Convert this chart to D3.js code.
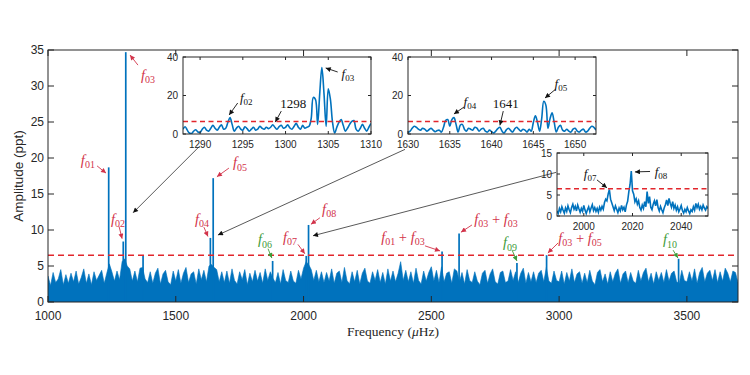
<!DOCTYPE html>
<html>
<head>
<meta charset="utf-8">
<script src="https://cdn.jsdelivr.net/npm/d3@7"></script>
<style>
body { margin: 0; background: #fff; }
svg { display: block; font-family: "Liberation Sans", Arial, sans-serif; }
</style>
</head>
<body>
<svg id="chart" width="750" height="375"></svg>
<script>
// main spectrum: noise envelope, one value per 10 uHz from 1000 to 3700
const noiseStart = 1000;
const noiseStep = 10;
const noiseTop = [
  3.6, 2.3, 4.1, 2.7, 3.2, 4.5, 2.4, 3.8, 2.6, 4.0,
  2.8, 4.3, 2.5, 3.4, 4.6, 2.6, 3.9, 2.4, 4.2, 3.0,
  3.7, 4.4, 2.6, 4.0, 5.3, 4.2, 2.9, 4.3, 3.1, 5.6,
  6.0, 5.0, 4.6, 2.9, 4.3, 2.8, 4.7, 4.8, 3.2, 2.7,
  4.2, 2.6, 4.0, 4.7, 2.5, 3.9, 4.4, 2.8, 2.4, 4.3,
  2.9, 4.5, 2.6, 4.0, 4.8, 2.7, 3.9, 4.2, 2.5, 4.6,
  3.1, 4.4, 2.8, 5.0, 5.2, 4.8, 4.5, 2.8, 4.2, 2.7,
  4.3, 2.6, 4.6, 3.0, 2.5, 4.2, 3.1, 4.5, 2.4, 4.0,
  2.8, 4.4, 2.9, 4.1, 2.6, 4.6, 3.0, 4.2, 3.3, 2.7,
  4.1, 2.5, 4.5, 3.0, 2.7, 4.3, 2.9, 2.6, 4.4, 3.2,
  4.7, 5.6, 5.2, 4.5, 3.0, 4.4, 2.8, 4.2, 2.7, 4.1,
  2.9, 4.6, 2.6, 4.0, 4.3, 2.7, 4.8, 3.0, 2.5, 4.2,
  2.8, 4.4, 2.5, 4.0, 4.7, 2.9, 2.6, 4.2, 3.0, 4.5,
  2.7, 4.1, 2.5, 4.6, 2.9, 4.3, 2.8, 4.0, 5.6, 3.0,
  4.4, 2.8, 4.2, 2.6, 4.7, 3.0, 2.5, 4.3, 2.9, 4.1,
  4.9, 2.9, 4.4, 2.7, 4.9, 2.8, 4.0, 4.2, 2.6, 4.6,
  4.3, 2.8, 4.1, 2.5, 4.5, 3.0, 2.7, 4.2, 2.9, 2.4,
  4.0, 4.4, 2.6, 3.9, 4.6, 2.8, 2.5, 4.1, 4.3, 2.7,
  2.9, 4.5, 3.0, 4.2, 2.7, 4.0, 4.7, 2.6, 4.1, 2.8,
  4.2, 2.7, 4.0, 4.4, 2.8, 4.8, 2.9, 2.6, 4.3, 3.0,
  2.8, 4.3, 2.5, 4.1, 2.9, 4.6, 2.7, 3.9, 4.2, 2.6,
  4.0, 2.7, 4.4, 2.9, 2.4, 4.1, 4.5, 2.8, 3.9, 2.5,
  4.2, 2.8, 4.0, 4.6, 2.6, 3.9, 4.3, 2.7, 4.1, 2.9,
  2.6, 4.4, 2.9, 4.1, 4.7, 2.8, 4.0, 2.5, 4.2, 3.0,
  4.1, 2.7, 4.5, 2.9, 4.0, 4.3, 2.8, 2.6, 4.4, 3.0,
  2.8, 4.2, 2.9, 4.6, 2.6, 4.1, 4.8, 2.8, 4.0, 4.4,
  3.0, 4.5, 2.7, 4.2, 2.9, 4.7, 4.0, 2.8, 4.3, 4.1, 2.7
];

// significant peaks in the main spectrum
const peakFreq = [1237.5, 1294.5, 1304.3, 1372, 1635.4, 1646.4, 1879, 2010.5, 2019.5, 2542, 2608.6, 2835, 2951, 3467.5];
const peakAmp  = [18.7, 8.4, 34.7, 6.4, 8.9, 17.2, 5.7, 6.4, 10.7, 7.0, 9.5, 5.4, 6.5, 6.0];

const threshold = 6.5;
const xTicks = [1000, 1500, 2000, 2500, 3000, 3500];
const yTicks = [0, 5, 10, 15, 20, 25, 30, 35];

// inset 1: 1288 - 1310 uHz
const zoom1Start = 1288, zoom1Step = 0.25;
const zoom1Amp = [
  2.5, 3.8, 2.0, 0.5, 0.3, 1.5, 2.2, 1.0, 0.8, 2.5,
  3.5, 2.0, 1.5, 3.0, 4.5, 3.0, 2.0, 3.5, 4.8, 2.5,
  3.0, 6.0, 8.5, 5.0, 1.5, 3.0, 4.0, 2.5, 2.0, 3.8,
  2.8, 1.5, 2.5, 3.5, 2.0, 2.5, 4.0, 3.0, 2.5, 3.5,
  2.8, 3.5, 4.8, 3.5, 2.5, 3.8, 4.5, 3.0, 3.5, 4.8,
  3.2, 2.5, 4.0, 5.5, 3.5, 2.5, 4.5, 3.0, 3.5, 4.0,
  8.0, 19.0, 18.0, 5.0, 21.0, 34.5, 21.0, 4.0, 23.5, 18.0,
  6.0, 0.5, 3.5, 6.0, 7.5, 4.5, 1.5, 3.0, 5.0, 6.5,
  7.0, 2.5, 1.5, 3.0, 5.0, 3.0, 1.5, 3.5, 5.5
];

// inset 2: 1630 - 1652.5 uHz
const zoom2Start = 1630, zoom2Step = 0.25;
const zoom2Amp = [
  0.8, 1.5, 3.0, 4.0, 3.5, 2.5, 2.0, 3.0, 2.5, 1.5,
  2.2, 3.0, 2.0, 1.2, 1.8, 2.0, 1.0, 3.5, 7.0, 7.5,
  4.0, 7.5, 8.5, 5.0, 1.0, 4.5, 5.0, 2.5, 1.5, 3.0,
  2.5, 2.0, 3.5, 3.0, 1.5, 2.5, 3.0, 1.5, 1.0, 2.0,
  1.2, 0.5, 1.5, 2.8, 3.5, 1.5, 0.5, 2.0, 3.0, 2.0,
  1.0, 2.5, 3.5, 2.5, 1.5, 2.5, 2.0, 1.0, 2.5, 1.5,
  6.0, 9.5, 6.0, 1.5, 8.0, 17.0, 15.0, 3.0, 8.0, 11.0,
  6.0, 1.0, 3.5, 4.5, 2.0, 1.5, 2.5, 1.5, 1.0, 2.5,
  3.0, 1.5, 1.0, 2.0, 2.5, 1.0, 1.5, 3.0, 4.0, 3.5,
  2.0
];

// inset 3: 1989 - 2051 uHz
const zoom3Start = 1989, zoom3Step = 0.5;
const zoom3Amp = [
  1.2, 0.6, 1.8, 1.0, 2.2, 1.4, 0.7, 1.9, 1.1, 2.4,
  1.5, 0.8, 2.0, 2.8, 1.6, 2.3, 1.2, 2.6, 1.7, 0.9,
  1.8, 1.1, 2.5, 1.4, 0.6, 1.5, 2.2, 1.0, 1.9, 2.7,
  1.3, 2.0, 1.1, 1.8, 0.9, 2.1, 1.4, 2.3, 1.6, 3.2,
  4.0, 3.6, 5.2, 6.3, 4.0, 3.1, 2.2, 1.3, 2.4, 1.6,
  0.8, 1.9, 1.2, 2.5, 1.5, 2.1, 1.0, 2.6, 3.5, 5.8,
  7.5, 10.7, 6.0, 5.2, 3.4, 4.1, 2.8, 3.6, 2.0, 1.4,
  2.6, 1.8, 3.4, 2.2, 5.8, 3.0, 4.6, 2.1, 1.5, 2.8,
  3.6, 2.4, 3.9, 2.0, 1.2, 2.3, 1.5, 0.8, 1.9, 2.7,
  3.8, 2.5, 4.2, 3.0, 2.1, 3.4, 1.8, 2.6, 1.4, 2.2,
  1.0, 1.7, 2.5, 1.3, 0.7, 1.6, 1.0, 2.0, 1.2, 0.6,
  1.5, 1.1, 2.2, 1.4, 3.0, 2.0, 2.8, 1.6, 2.3, 1.5,
  2.6, 1.9, 1.4, 2.2, 1.8
];

// label pieces: [text, kind]  i = italic f, s = subscript, n = normal
const F = n => [["f", "i"], [n, "s"]];
const mainNotes = [
  { t: F("03"), c: "red", lab: [1391, 31.4], tail: [1352, 32.9], tip: [1321, 34.3] },
  { t: F("01"), c: "red", lab: [1156, 19.6], tail: [1192, 18.9], tip: [1227, 17.9] },
  { t: F("05"), c: "red", lab: [1751, 19.3], tail: [1708, 18.6], tip: [1661, 17.4] },
  { t: F("02"), c: "red", lab: [1274, 11.5], tail: [1278, 10.5], tip: [1290, 8.8] },
  { t: F("04"), c: "red", lab: [1603, 11.4], tail: [1610, 10.4], tip: [1626, 9.1] },
  { t: F("06"), c: "green", lab: [1849, 8.6], tail: [1861, 7.4], tip: [1876, 6.1] },
  { t: F("07"), c: "red", lab: [1947, 8.9], tail: [1978, 8.0], tip: [2005, 6.7] },
  { t: F("08"), c: "red", lab: [2100, 12.8], tail: [2064, 11.7], tip: [2029, 10.8] },
  { t: F("01").concat([[" + ", "n"]], F("03")), c: "red", lab: [2389, 8.9], tail: [2475, 7.8], tip: [2534, 7.1] },
  { t: F("03").concat([[" + ", "n"]], F("03")), c: "red", lab: [2753, 11.4], tail: [2659, 10.7], tip: [2616, 9.7] },
  { t: F("09"), c: "green", lab: [2808, 8.2], tail: [2816, 7.2], tip: [2835, 5.7] },
  { t: F("03").concat([[" + ", "n"]], F("05")), c: "red", lab: [3082, 8.8], tail: [2996, 8.2], tip: [2956, 6.8] },
  { t: F("10"), c: "green", lab: [3434, 8.6], tail: [3446, 7.2], tip: [3465, 6.1] }
];
const zoom1Notes = [
  { t: F("03"), c: "black", lab: [1307.3, 31.2], tail: [1306.1, 32.2], tip: [1304.7, 34.3] },
  { t: F("02"), c: "black", lab: [1295.4, 18.7], tail: [1294.4, 16.1], tip: [1293.4, 9.9] },
  { t: [["1298", "n"]], c: "black", lab: [1300.9, 15.3], tail: [1299.5, 11.9], tip: [1298.8, 6.2] }
];
const zoom2Notes = [
  { t: F("05"), c: "black", lab: [1648.3, 26.0], tail: [1647.7, 23.4], tip: [1646.4, 18.7] },
  { t: F("04"), c: "black", lab: [1637.4, 16.6], tail: [1636.7, 14.0], tip: [1635.5, 10.4] },
  { t: [["1641", "n"]], c: "black", lab: [1641.7, 15.3], tail: [1641.4, 11.9], tip: [1641.0, 4.5] }
];
const zoom3Notes = [
  { t: F("07"), c: "black", lab: [2002.6, 10.0], tail: [2005.4, 8.6], tip: [2009.5, 6.7] },
  { t: F("08"), c: "black", lab: [2031.7, 10.5], tail: [2027.2, 10.6], tip: [2021.0, 10.5] }
];
// thin lines from each inset down to its peak, in main-axes units
const connectors = [
  { from: [1595, 21.7], to: [1333, 12.4] },
  { from: [2397, 21.2], to: [1665, 9.3] },
  { from: [2988, 18.0], to: [2037, 9.2] }
];

const blue = "#0072bd", dashRed = "#e2262c", axisCol = "#262626";
const colors = { red: "#d2334a", green: "#3e9b3a", black: "#111" };
const serif = "'Liberation Serif', 'DejaVu Serif', serif";

const svg = d3.select("#chart");
const defs = svg.append("defs");
Object.entries(colors).forEach(([k, c]) => {
  defs.append("marker")
    .attr("id", "ah-" + k)
    .attr("viewBox", "0 0 10 10")
    .attr("refX", 10).attr("refY", 5)
    .attr("markerWidth", 6).attr("markerHeight", 5)
    .attr("markerUnits", "userSpaceOnUse")
    .attr("orient", "auto")
    .append("path").attr("d", "M0,0L10,5L0,10z").attr("fill", c);
});

// draws a MATLAB style box with inward ticks on all four sides
const drawBox = function(g, x, y, xt, yt, o) {
  const [x0, x1] = x.range();
  const [y0, y1] = y.range();
  g.append("rect")
    .attr("x", x0).attr("y", y1).attr("width", x1 - x0).attr("height", y0 - y1)
    .attr("fill", "none").attr("stroke", axisCol).attr("stroke-width", o.sw);
  xt.forEach(v => {
    g.append("line").attr("x1", x(v)).attr("x2", x(v)).attr("y1", y0).attr("y2", y0 - o.tick)
      .attr("stroke", axisCol).attr("stroke-width", o.sw);
    g.append("line").attr("x1", x(v)).attr("x2", x(v)).attr("y1", y1).attr("y2", y1 + o.tick)
      .attr("stroke", axisCol).attr("stroke-width", o.sw);
    g.append("text").attr("x", x(v)).attr("y", y0 + o.xGap)
      .attr("text-anchor", "middle").attr("font-size", o.fs).attr("fill", axisCol).text(v);
  });
  yt.forEach(v => {
    g.append("line").attr("x1", x0).attr("x2", x0 + o.tick).attr("y1", y(v)).attr("y2", y(v))
      .attr("stroke", axisCol).attr("stroke-width", o.sw);
    g.append("line").attr("x1", x1).attr("x2", x1 - o.tick).attr("y1", y(v)).attr("y2", y(v))
      .attr("stroke", axisCol).attr("stroke-width", o.sw);
    g.append("text").attr("x", x0 - o.yGap).attr("y", y(v) + o.fs * 0.36)
      .attr("text-anchor", "end").attr("font-size", o.fs).attr("fill", axisCol).text(v);
  });
};

const drawNotes = function(g, notes, x, y, fBig, fSub) {
  notes.forEach(n => {
    g.append("line")
      .attr("x1", x(n.tail[0])).attr("y1", y(n.tail[1]))
      .attr("x2", x(n.tip[0])).attr("y2", y(n.tip[1]))
      .attr("stroke", colors[n.c]).attr("stroke-width", 0.9)
      .attr("marker-end", `url(#ah-${n.c})`);
    const txt = g.append("text")
      .attr("x", x(n.lab[0])).attr("y", y(n.lab[1]) + fBig * 0.3)
      .attr("text-anchor", "middle")
      .attr("font-family", serif)
      .attr("fill", colors[n.c]);
    let low = false;
    n.t.forEach(([s, k]) => {
      const sp = txt.append("tspan").text(s);
      if (k === "s") {
        sp.attr("font-size", fSub).attr("dy", low ? 0 : fBig * 0.22);
        low = true;
      } else {
        sp.attr("font-size", fBig).attr("dy", low ? -fBig * 0.22 : 0);
        if (k === "i") sp.attr("font-style", "italic");
        low = false;
      }
    });
  });
};

// ---- main axes ----
const x = d3.scaleLinear().domain([1000, 3700]).range([48, 738]);
const y = d3.scaleLinear().domain([0, 35]).range([302, 50]);
const main = svg.append("g");

defs.append("clipPath").attr("id", "clipMain")
  .append("rect").attr("x", 48).attr("y", 50).attr("width", 690).attr("height", 252);

const plot = main.append("g").attr("clip-path", "url(#clipMain)");
const noise = noiseTop.map((v, i) => [noiseStart + i * noiseStep, v]);
plot.append("path")
  .datum(noise)
  .attr("d", d3.area().x(d => x(d[0])).y0(y(0)).y1(d => y(d[1])))
  .attr("fill", blue)
  .attr("stroke", blue).attr("stroke-width", 0.6);

plot.selectAll("line.peak")
  .data(peakFreq.map((f, i) => [f, peakAmp[i]]))
  .enter().append("line")
  .attr("class", "peak")
  .attr("x1", d => x(d[0])).attr("x2", d => x(d[0]))
  .attr("y1", y(0)).attr("y2", d => y(d[1]))
  .attr("stroke", blue).attr("stroke-width", 1.7);

plot.append("line")
  .attr("x1", x(1000)).attr("x2", x(3700))
  .attr("y1", y(threshold)).attr("y2", y(threshold))
  .attr("stroke", dashRed).attr("stroke-width", 1.5).attr("stroke-dasharray", "6,4");

drawBox(main, x, y, xTicks, yTicks, { tick: 6, sw: 1, fs: 12, xGap: 17.5, yGap: 4 });

main.append("text")
  .attr("transform", "translate(23,176) rotate(-90)")
  .attr("text-anchor", "middle").attr("font-size", 13.5).attr("fill", axisCol)
  .text("Amplitude (ppt)");

const xl = main.append("text")
  .attr("x", 393).attr("y", 336)
  .attr("text-anchor", "middle").attr("font-size", 13.5)
  .attr("font-family", serif).attr("fill", axisCol);
xl.append("tspan").text("Frequency (");
xl.append("tspan").attr("font-style", "italic").text("μ");
xl.append("tspan").text("Hz)");

// connector lines
connectors.forEach(c => {
  main.append("line")
    .attr("x1", x(c.from[0])).attr("y1", y(c.from[1]))
    .attr("x2", x(c.to[0])).attr("y2", y(c.to[1]))
    .attr("stroke", colors.black).attr("stroke-width", 0.7)
    .attr("marker-end", "url(#ah-black)");
});

drawNotes(main, mainNotes, x, y, 14.5, 10);

// ---- insets ----
const drawInset = function(id, box, xDom, yDom, xt, yt, start, step, amps, notes, curve) {
  const ix = d3.scaleLinear().domain(xDom).range([box[0], box[1]]);
  const iy = d3.scaleLinear().domain(yDom).range([box[3], box[2]]);
  const g = svg.append("g");
  g.append("rect")
    .attr("x", box[0]).attr("y", box[2]).attr("width", box[1] - box[0]).attr("height", box[3] - box[2])
    .attr("fill", "#fff");
  defs.append("clipPath").attr("id", id)
    .append("rect").attr("x", box[0]).attr("y", box[2]).attr("width", box[1] - box[0]).attr("height", box[3] - box[2]);
  const inner = g.append("g").attr("clip-path", `url(#${id})`);
  inner.append("path")
    .datum(amps.map((v, i) => [start + i * step, v]))
    .attr("d", d3.line().x(d => ix(d[0])).y(d => iy(d[1])).curve(curve))
    .attr("fill", "none").attr("stroke", blue).attr("stroke-width", 1.6);
  inner.append("line")
    .attr("x1", box[0]).attr("x2", box[1])
    .attr("y1", iy(threshold)).attr("y2", iy(threshold))
    .attr("stroke", dashRed).attr("stroke-width", 1.4).attr("stroke-dasharray", "5,3.5");
  drawBox(g, ix, iy, xt, yt, { tick: 3, sw: 1, fs: 10, xGap: 13.5, yGap: 5 });
  drawNotes(g, notes, ix, iy, 13, 9);
};

drawInset("clip1", [183, 371, 57, 134], [1288, 1310], [0, 40],
  [1290, 1295, 1300, 1305, 1310], [0, 20, 40],
  zoom1Start, zoom1Step, zoom1Amp, zoom1Notes, d3.curveCatmullRom.alpha(0.5));
drawInset("clip2", [408, 596, 57, 134], [1630, 1652.5], [0, 40],
  [1630, 1635, 1640, 1645, 1650], [0, 20, 40],
  zoom2Start, zoom2Step, zoom2Amp, zoom2Notes, d3.curveCatmullRom.alpha(0.5));
drawInset("clip3", [557, 708, 153, 216], [1989, 2051], [0, 15],
  [2000, 2020, 2040], [0, 5, 10, 15],
  zoom3Start, zoom3Step, zoom3Amp, zoom3Notes, d3.curveLinear);
</script>
</body>
</html>
